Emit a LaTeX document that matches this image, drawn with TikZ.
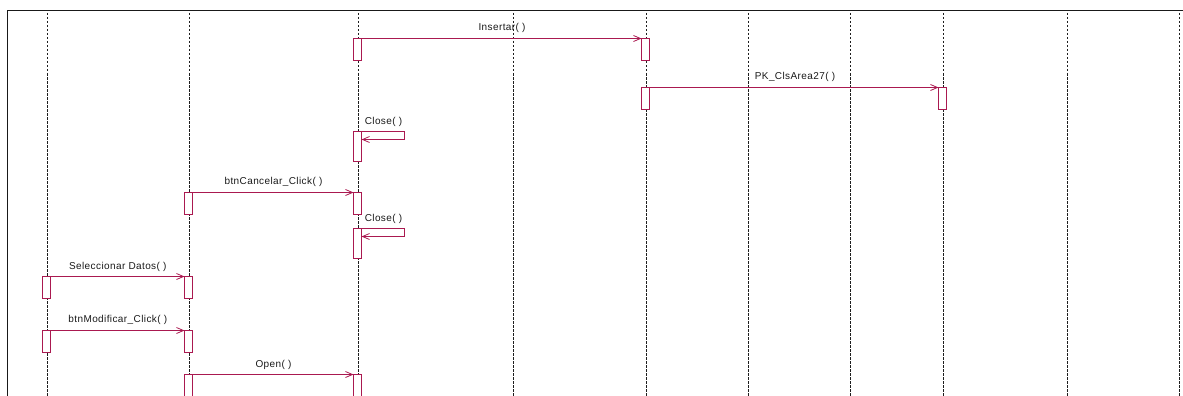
\documentclass[tikz,border=0pt]{standalone}
\usepackage{fontspec}
\newfontfamily\labfont[LetterSpace=4]{Liberation Sans}
\usetikzlibrary{arrows.meta}
\definecolor{msg}{RGB}{170,25,80}
\definecolor{lifegray}{RGB}{30,30,30}
\tikzset{
  lifeline/.style={draw=lifegray, line width=0.9pt, dash pattern=on 2.5pt off 1.5pt},
  actbox/.style={draw=msg, line width=1pt, fill=white, minimum width=8pt, inner sep=0pt, outer sep=0pt, anchor=north, rectangle},
  msgline/.style={draw=msg, line width=1pt, -{Straight Barb[length=7pt,width=6pt,line width=0.8pt]}},
  lbl/.style={font=\labfont\fontsize{10}{12}\selectfont, text=black!90, inner sep=0pt, anchor=base},
  frameline/.style={draw=black!90, line width=1pt}
}
\begin{document}
\begin{tikzpicture}[x=1pt,y=-1pt]
\useasboundingbox (0,0) rectangle (1183,396);
% frame
\coordinate (fbl) at (7.5,397);
\coordinate (ftl) at (7.5,11);
\coordinate (ftr) at (1184,11);
\draw[frameline] (fbl) -- (ftl) -- (ftr);
% lifelines
\foreach \n/\x in {1/47,2/189,3/358,4/513,5/646,6/748,7/850,8/943,9/1067,10/1179}{
  \coordinate (lt\n) at (\x,13);
  \coordinate (lb\n) at (\x,397);
  \draw[lifeline] (lt\n) -- (lb\n);
}
% activation boxes
\node[actbox, minimum height=22pt] (a3a) at (357.5,38.5) {};
\node[actbox, minimum height=22pt] (a5a) at (645.5,38.5) {};
\node[actbox, minimum height=22pt] (a5b) at (645.5,87.5) {};
\node[actbox, minimum height=22pt] (a8a) at (942.5,87.5) {};
\node[actbox, minimum height=30pt] (a3b) at (357.5,131.5) {};
\node[actbox, minimum height=22pt] (a2a) at (188.5,192.5) {};
\node[actbox, minimum height=22pt] (a3c) at (357.5,192.5) {};
\node[actbox, minimum height=30pt] (a3d) at (357.5,228.5) {};
\node[actbox, minimum height=22pt] (a1a) at (46.5,276.5) {};
\node[actbox, minimum height=22pt] (a2b) at (188.5,276.5) {};
\node[actbox, minimum height=22pt] (a1b) at (46.5,330.5) {};
\node[actbox, minimum height=22pt] (a2c) at (188.5,330.5) {};
\node[actbox, minimum height=30pt] (a2d) at (188.5,374.5) {};
\node[actbox, minimum height=30pt] (a3e) at (357.5,374.5) {};
% messages
\draw[msgline] (a3a.north east) -- (a5a.north west);
\node[lbl] (m1) at (502,31) {Insertar( )};
\draw[msgline] (a5b.north east) -- (a8a.north west);
\node[lbl] (m2) at (795,79.5) {PK\_ClsArea27( )};
% self call Close 1
\coordinate (s1a) at (404.5,131.5);
\coordinate (s1b) at (404.5,139.5);
\draw[draw=msg, line width=1pt] (a3b.north east) -- (s1a) -- (s1b);
\draw[msgline] (s1b) -- (a3b.east |- s1b);
\node[lbl] (m3) at (383.5,124) {Close( )};
\draw[msgline] (a2a.north east) -- (a3c.north west);
\node[lbl] (m4) at (273.5,184.5) {btnCancelar\_Click( )};
% self call Close 2
\coordinate (s2a) at (404.5,228.5);
\coordinate (s2b) at (404.5,236.5);
\draw[draw=msg, line width=1pt] (a3d.north east) -- (s2a) -- (s2b);
\draw[msgline] (s2b) -- (a3d.east |- s2b);
\node[lbl] (m5) at (383.5,221) {Close( )};
\draw[msgline] (a1a.north east) -- (a2b.north west);
\node[lbl] (m6) at (117.8,269.2) {Seleccionar Datos( )};
\draw[msgline] (a1b.north east) -- (a2c.north west);
\node[lbl] (m7) at (117.8,322.8) {btnModificar\_Click( )};
\draw[msgline] (a2d.north east) -- (a3e.north west);
\node[lbl] (m8) at (273.5,367.2) {Open( )};
\end{tikzpicture}
\end{document}
